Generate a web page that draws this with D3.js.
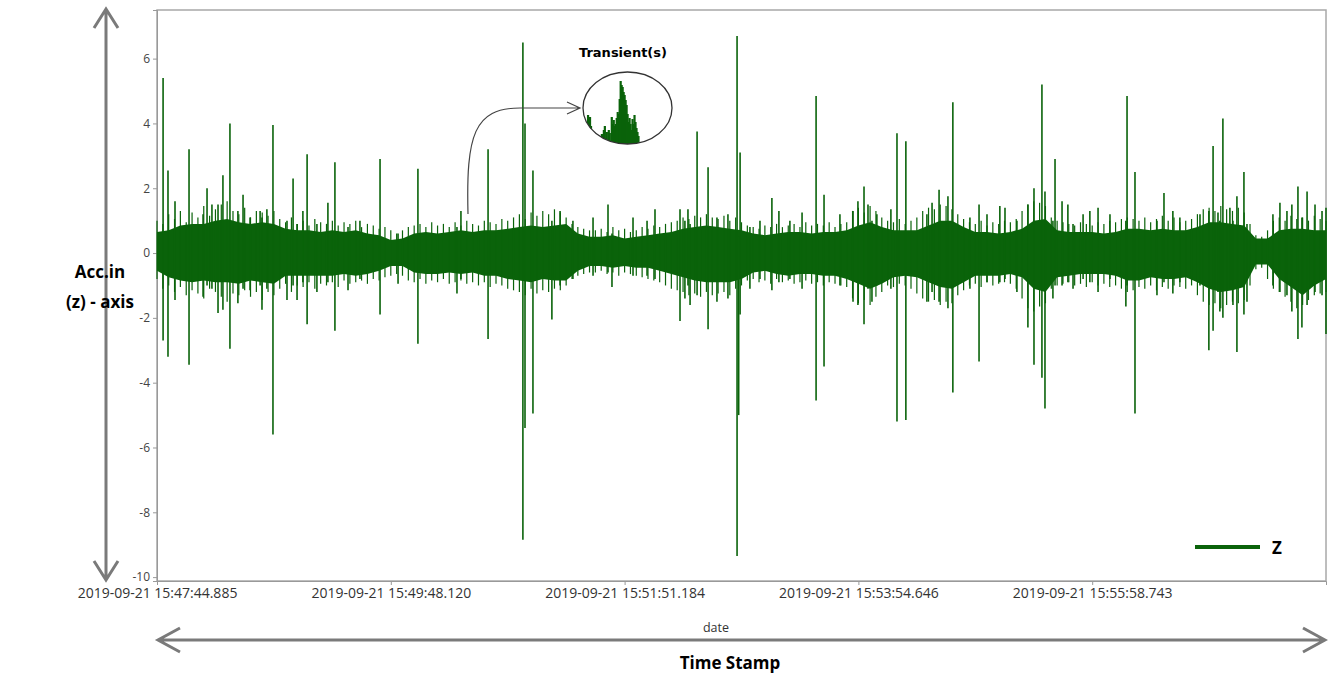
<!DOCTYPE html>
<html>
<head>
<meta charset="utf-8">
<script src="https://cdn.jsdelivr.net/npm/d3@7"></script>
<style>
  body { margin: 0; background: #fff; }
</style>
</head>
<body>
<div id="chart"></div>
<script>
// x is sample position (0..5000), tick labels sit every 1000 samples
var tickPos = [0, 1000, 2000, 3000, 4000];
var tickLabels = ["2019-09-21 15:47:44.885", "2019-09-21 15:49:48.120", "2019-09-21 15:51:51.184",
                  "2019-09-21 15:53:54.646", "2019-09-21 15:55:58.743"];
var yTicks = [6, 4, 2, 0, -2, -4, -6, -8, -10];

// solid core of the z signal, one value every 50 samples
var envStep = 50;
var envTop = [0.65,0.7,0.85,0.9,0.9,1.0,1.05,0.95,0.9,0.95,0.9,0.75,0.7,0.7,0.65,0.7,0.65,0.7,0.6,0.55,
              0.4,0.45,0.6,0.65,0.6,0.65,0.7,0.65,0.7,0.7,0.75,0.8,0.85,0.8,0.85,0.9,0.6,0.5,0.5,0.55,
              0.45,0.5,0.55,0.6,0.65,0.75,0.8,0.85,0.8,0.75,0.7,0.6,0.55,0.6,0.65,0.65,0.6,0.65,0.65,0.7,
              0.85,0.95,0.8,0.7,0.7,0.7,0.85,1.0,1.0,0.8,0.65,0.65,0.6,0.65,0.75,1.0,1.05,0.7,0.65,0.65,
              0.65,0.6,0.65,0.75,0.75,0.7,0.75,0.7,0.7,0.8,0.95,0.95,0.9,0.85,0.45,0.45,0.7,0.75,0.75,0.7,0.7];
var envBot = [-0.55,-0.75,-0.85,-0.9,-0.85,-0.9,-0.9,-0.95,-0.85,-0.9,-0.95,-0.7,-0.7,-0.7,-0.7,-0.7,-0.65,-0.7,-0.65,-0.55,
              -0.4,-0.4,-0.6,-0.65,-0.65,-0.6,-0.65,-0.6,-0.7,-0.7,-0.8,-0.85,-0.9,-0.8,-0.85,-0.85,-0.55,-0.4,-0.4,-0.45,
              -0.4,-0.45,-0.45,-0.55,-0.65,-0.75,-0.85,-0.9,-0.9,-0.9,-0.8,-0.6,-0.55,-0.65,-0.7,-0.65,-0.65,-0.7,-0.7,-0.8,
              -0.95,-1.1,-0.95,-0.75,-0.7,-0.75,-0.9,-1.05,-1.1,-0.9,-0.7,-0.7,-0.7,-0.65,-0.75,-1.1,-1.2,-0.75,-0.7,-0.65,
              -0.65,-0.65,-0.7,-0.85,-0.85,-0.75,-0.8,-0.8,-0.75,-0.9,-1.1,-1.2,-1.15,-1.05,-0.35,-0.35,-0.8,-1.05,-1.3,-1.0,-0.8];

// ragged edge of the band, one stroke every 25 samples
var fringeStep = 25;
var fringeTop = [1.0,0.9,1.2,1.05,1.3,0.95,1.25,1.1,1.45,1.15,1.35,1.5,1.6,1.3,1.2,1.4,1.1,1.3,1.25,1.15,1.3,
                 1.05,0.95,1.1,0.9,1.0,0.85,1.05,0.95,0.9,1.0,0.85,0.95,0.9,1.0,0.8,0.9,0.85,0.75,0.8,0.7,
                 0.6,0.7,0.8,0.85,0.9,0.8,0.95,0.85,0.9,0.8,0.95,0.85,1.0,0.9,0.85,1.0,0.95,0.9,1.05,1.0,
                 1.1,1.2,1.05,1.25,1.15,1.3,1.2,1.35,1.25,1.1,0.9,0.8,0.75,0.7,
                 0.7,0.75,0.65,0.8,0.7,0.75,0.65,0.7,0.8,0.75,0.85,0.8,0.9,0.95,1.0,1.1,1.05,1.15,1.1,1.2,1.1,
                 1.05,1.15,1.0,1.1,0.95,0.85,0.8,0.75,0.85,0.8,0.9,0.8,0.85,0.9,0.8,0.95,0.85,0.9,0.85,0.95,0.8,0.9,0.95,
                 1.3,1.4,1.25,1.45,1.3,1.1,1.0,0.95,1.05,0.9,1.0,1.1,1.3,1.4,1.35,1.5,1.45,1.35,1.2,1.05,0.95,0.9,1.0,0.85,0.95,0.9,1.0,
                 0.95,1.05,1.3,1.5,1.6,1.55,1.45,1.1,1.0,0.95,0.9,0.85,0.95,0.9,0.85,0.95,0.9,1.0,0.95,1.05,
                 1.1,1.05,1.0,1.1,0.95,1.05,1.15,1.0,1.1,0.95,1.0,1.05,1.2,1.35,1.4,1.3,1.45,1.35,1.3,1.4,
                 1.25,0.9,0.55,0.5,0.7,1.0,1.1,1.0,1.15,1.05,1.1,1.0,1.15,1.05,1.0];
var fringeBot = [-0.8,-1.1,-1.0,-1.2,-1.05,-1.3,-1.15,-1.25,-1.4,-1.1,-1.2,-1.35,-1.5,-1.25,-1.3,-1.15,-1.35,-1.2,-1.45,-1.2,-1.3,
                 -1.1,-0.95,-1.2,-1.0,-1.05,-0.9,-1.1,-0.95,-1.0,-0.9,-1.05,-0.85,-0.95,-0.9,-0.85,-0.95,-0.8,-0.85,-0.75,-0.7,
                 -0.65,-0.7,-0.85,-0.9,-0.8,-0.95,-0.85,-0.9,-0.8,-0.95,-0.9,-0.85,-0.95,-0.9,-1.0,-0.9,-1.05,-0.95,-1.0,-1.1,
                 -1.15,-1.2,-1.3,-1.1,-1.25,-1.15,-1.2,-1.1,-1.15,-1.0,-0.8,-0.7,-0.65,-0.6,
                 -0.6,-0.55,-0.65,-0.6,-0.7,-0.6,-0.65,-0.7,-0.75,-0.8,-0.85,-0.9,-1.0,-1.1,-1.15,-1.2,-1.3,-1.25,-1.35,-1.2,-1.3,
                 -1.25,-1.2,-1.3,-1.1,-1.0,-0.85,-0.8,-0.9,-0.85,-0.95,-0.8,-0.9,-0.85,-0.95,-0.9,-0.85,-0.95,-0.9,-1.0,-0.9,-0.95,-1.0,-1.05,
                 -1.4,-1.55,-1.45,-1.6,-1.35,-1.2,-1.0,-1.05,-0.95,-1.0,-1.1,-1.25,-1.4,-1.5,-1.45,-1.6,-1.5,-1.55,-1.3,-1.15,-1.0,-0.95,-1.05,-0.9,-1.0,-0.95,-0.9,
                 -0.95,-1.1,-1.4,-1.7,-1.8,-1.65,-1.55,-1.1,-1.0,-0.95,-0.9,-1.0,-0.95,-1.05,-0.9,-1.0,-0.95,-1.05,-1.0,-1.1,
                 -1.2,-1.15,-1.05,-1.1,-1.0,-1.15,-1.05,-1.1,-1.0,-1.05,-1.1,-1.0,-1.3,-1.5,-1.6,-1.55,-1.7,-1.6,-1.5,-1.55,
                 -1.45,-1.0,-0.5,-0.45,-0.8,-1.1,-1.2,-1.35,-1.5,-1.7,-1.6,-1.45,-1.3,-1.25,-1.2];

// spikes sticking out of the band: [sample, low, high]
var spikes = [
  [26,-2.7,5.4],[47,-3.2,2.55],[77,-1.45,1.6],[137,-3.45,3.2],[197,-1.35,1.2],[214,-1.0,2.0],[235,-1.1,1.5],
  [261,-1.85,1.5],[282,-1.75,2.4],[312,-2.95,4.0],[346,-1.55,1.3],[368,-1.1,1.8],[398,-1.15,1.1],[441,-1.0,1.3],
  [449,-1.75,1.1],[470,-1.1,1.35],[496,-5.6,3.95],[556,-1.45,1.0],[582,-1.0,2.3],[599,-1.45,0.9],[624,-0.9,1.3],
  [642,-2.2,3.05],[684,-1.2,0.9],[731,-0.9,1.55],[761,-2.4,2.8],[817,-1.15,0.8],[868,-0.8,1.0],[954,-1.9,2.9],
  [1031,-0.95,0.6],[1116,-2.8,2.6],[1283,-1.25,0.8],[1300,-0.8,1.3],[1416,-2.65,3.2],[1565,-8.85,6.5],
  [1574,-5.4,4.0],[1608,-4.95,2.55],[1689,-2.05,1.0],[1724,-1.0,1.3],[1779,-0.8,1.0],[1865,-0.7,1.1],
  [1929,-0.6,1.5],[1946,-1.05,0.6],[2036,-0.7,1.1],[2096,-0.7,1.0],[2130,-0.8,1.35],[2237,-2.1,1.35],
  [2258,-1.4,1.0],[2271,-1.0,1.35],[2280,-1.6,0.9],[2310,-1.3,3.75],[2357,-2.35,2.65],[2395,-1.5,1.1],
  [2442,-1.4,1.2],[2481,-9.35,6.7],[2488,-5.0,0.5],[2494,-1.9,3.1],[2536,-1.1,0.8],[2579,-0.8,1.0],
  [2630,-1.15,1.7],[2660,-0.9,1.3],[2707,-0.8,1.0],[2759,-1.1,1.25],[2819,-4.55,4.85],[2853,-3.5,1.8],
  [2921,-1.0,1.2],[2977,-1.5,1.3],[2998,-1.6,1.6],[3024,-2.2,2.05],[3041,-1.1,1.5],[3058,-1.5,1.0],
  [3079,-1.0,1.2],[3139,-1.1,1.35],[3165,-5.2,3.7],[3203,-5.15,3.45],[3293,-1.5,1.2],[3315,-1.2,1.55],
  [3345,-1.5,1.95],[3383,-1.7,1.75],[3404,-4.3,4.65],[3477,-1.1,1.1],[3516,-3.35,1.5],[3550,-0.9,1.2],
  [3605,-0.9,1.45],[3627,-0.8,1.4],[3678,-1.2,1.0],[3725,-2.3,1.5],[3751,-3.45,2.0],[3785,-3.85,5.2],
  [3798,-4.8,1.9],[3832,-1.4,1.0],[3841,-1.0,2.9],[3871,-1.0,1.6],[3896,-0.9,1.5],[3918,-1.1,0.9],
  [3961,-0.8,1.2],[3990,-0.9,1.3],[4025,-1.2,1.4],[4076,-0.8,1.2],[4144,-1.65,1.0],[4149,-1.0,4.85],
  [4183,-4.95,2.5],[4277,-1.3,1.0],[4307,-0.9,1.85],[4345,-1.25,1.3],[4375,-0.9,1.1],[4461,-1.0,1.2],
  [4499,-3.0,1.3],[4517,-2.4,3.3],[4538,-1.2,1.25],[4546,-1.8,1.0],[4559,-2.0,4.15],[4589,-1.1,1.4],
  [4602,-1.6,1.0],[4619,-3.05,1.75],[4649,-1.9,2.5],[4662,-1.5,0.9],[4773,-1.0,1.2],[4803,-1.2,1.55],
  [4833,-1.3,1.3],[4854,-1.8,1.5],[4880,-2.65,2.05],[4897,-2.3,1.1],[4919,-1.6,1.9],[4953,-1.2,1.5],
  [4983,-1.3,1.3],[5000,-2.5,1.4]
];

// zoomed transient drawn inside the ellipse: [position, height]
var insetBars = [[5,29],[6,22],[7,27],[8,18],[9,12],[19,10],[21,14],[22,18],[24,12],[26,14],[27,11],[29,27],
                 [30,20],[31,24],[32,18],[33,20],[34,26],[35,32],[36,30],[37,45],[38,63],[39,59],[40,57],
                 [41,52],[42,49],[43,44],[44,39],[45,30],[46,22],[47,26],[48,20],[49,14],[50,25],[51,20],
                 [52,29],[53,22],[54,16],[55,12],[56,8]];

var width = 1328, height = 674;
var plotLeft = 157, plotRight = 1326, plotTop = 10, plotBottom = 581;
var green = "#0a630a";

var svg = d3.select("#chart").append("svg")
  .attr("width", width)
  .attr("height", height)
  .style("font-family", "Open Sans");

svg.append("rect")
  .attr("width", width)
  .attr("height", height)
  .attr("fill", "#fff");

var xScale = d3.scaleLinear().domain([0, 5000]).range([plotLeft, plotRight]);
var yScale = d3.scaleLinear().domain([-10.12, 7.5]).range([plotBottom, plotTop]);

// plot frame
svg.append("rect")
  .attr("x", plotLeft)
  .attr("y", plotTop)
  .attr("width", plotRight - plotLeft)
  .attr("height", plotBottom - plotTop)
  .attr("fill", "none")
  .attr("stroke", "#a8a8a8")
  .attr("stroke-width", 1.5);

var yAxis = svg.append("g")
  .attr("transform", "translate(" + plotLeft + ",0)")
  .call(d3.axisLeft(yScale).tickValues(yTicks).tickSize(4).tickPadding(3)
    .tickFormat(function(d) { return String(d); }));
yAxis.select(".domain").attr("stroke", "#999");
yAxis.selectAll(".tick line").attr("stroke", "#999");
yAxis.selectAll(".tick text")
  .style("font-family", "Open Sans")
  .style("font-size", "12px")
  .attr("fill", "#444");

var xAxis = svg.append("g")
  .attr("transform", "translate(0," + plotBottom + ")")
  .call(d3.axisBottom(xScale).tickValues(tickPos).tickSize(4).tickPadding(3)
    .tickFormat(function(d, i) { return tickLabels[i]; }));
xAxis.select(".domain").attr("stroke", "#999");
xAxis.selectAll(".tick line").attr("stroke", "#999");
xAxis.selectAll(".tick text")
  .style("font-family", "Open Sans")
  .style("font-size", "14px")
  .attr("fill", "#333");

// signal
var band = d3.area()
  .x(function(d, i) { return xScale(i * envStep); })
  .y0(function(d, i) { return yScale(envBot[i]); })
  .y1(function(d) { return yScale(d); });

svg.append("path")
  .datum(envTop)
  .attr("d", band)
  .attr("fill", green);

svg.selectAll(".fringe")
  .data(fringeTop)
  .enter().append("line")
  .attr("class", "fringe")
  .attr("x1", function(d, i) { return xScale(i * fringeStep); })
  .attr("x2", function(d, i) { return xScale(i * fringeStep); })
  .attr("y1", function(d, i) { return yScale(fringeBot[i]); })
  .attr("y2", function(d) { return yScale(d); })
  .attr("stroke", green)
  .attr("stroke-width", 1.2);

svg.selectAll(".spike")
  .data(spikes)
  .enter().append("line")
  .attr("class", "spike")
  .attr("x1", function(d) { return xScale(d[0]); })
  .attr("x2", function(d) { return xScale(d[0]); })
  .attr("y1", function(d) { return yScale(d[1]); })
  .attr("y2", function(d) { return yScale(d[2]); })
  .attr("stroke", green)
  .attr("stroke-width", 1.6);

// legend
svg.append("line")
  .attr("x1", 1195).attr("x2", 1260)
  .attr("y1", 547).attr("y2", 547)
  .attr("stroke", green)
  .attr("stroke-width", 4);
svg.append("text")
  .attr("x", 1272).attr("y", 554)
  .text("Z")
  .style("font-size", "17px")
  .style("font-weight", 700);

// transient callout
var cx = 627.5, cy = 108, rx = 44.5, ry = 36;
svg.append("clipPath").attr("id", "ell")
  .append("ellipse").attr("cx", cx).attr("cy", cy).attr("rx", rx).attr("ry", ry);

var insetX = d3.scaleLinear().domain([0, 90]).range([cx - rx, cx + rx]);
var insetY = d3.scaleLinear().domain([0, 65]).range([cy + ry, cy + ry - 65]);
svg.append("g").attr("clip-path", "url(#ell)")
  .selectAll("rect")
  .data(insetBars)
  .enter().append("rect")
  .attr("x", function(d) { return insetX(d[0]) - 1; })
  .attr("width", 2.2)
  .attr("y", function(d) { return insetY(d[1]); })
  .attr("height", function(d) { return insetY(0) - insetY(d[1]) + 2; })
  .attr("fill", green);

svg.append("ellipse")
  .attr("cx", cx).attr("cy", cy).attr("rx", rx).attr("ry", ry)
  .attr("fill", "none")
  .attr("stroke", "#333")
  .attr("stroke-width", 1.3);

svg.append("text")
  .attr("x", 623).attr("y", 57)
  .attr("text-anchor", "middle")
  .text("Transient(s)")
  .style("font-family", "DejaVu Sans")
  .style("font-size", "13px")
  .style("font-weight", 700);

svg.append("path")
  .attr("d", "M468,214 C466,135 474,108 520,108 L580,108 M567,102 L580,108 L567,114")
  .attr("fill", "none")
  .attr("stroke", "#444")
  .attr("stroke-width", 1.2);

// big grey arrows
var arrowGrey = "#7a7a7a";
svg.append("path")
  .attr("d", "M106,9 L106,580 M94,28 L106,9 L118,28 M94,561 L106,580 L118,561")
  .attr("fill", "none")
  .attr("stroke", arrowGrey)
  .attr("stroke-width", 3);
svg.append("path")
  .attr("d", "M158,640 L1325,640 M180,628 L158,640 L180,652 M1303,628 L1325,640 L1303,652")
  .attr("fill", "none")
  .attr("stroke", arrowGrey)
  .attr("stroke-width", 3);

// axis titles
svg.append("text")
  .attr("x", 100).attr("y", 278)
  .attr("text-anchor", "middle")
  .text("Acc.in")
  .style("font-size", "17px")
  .style("font-weight", 700);
svg.append("text")
  .attr("x", 100).attr("y", 308)
  .attr("text-anchor", "middle")
  .text("(z) - axis")
  .style("font-size", "17px")
  .style("font-weight", 700);

svg.append("text")
  .attr("x", 716).attr("y", 632)
  .attr("text-anchor", "middle")
  .text("date")
  .style("font-size", "12.5px")
  .attr("fill", "#333");

svg.append("text")
  .attr("x", 730).attr("y", 669)
  .attr("text-anchor", "middle")
  .text("Time Stamp")
  .style("font-size", "17px")
  .style("font-weight", 700);
</script>
</body>
</html>
